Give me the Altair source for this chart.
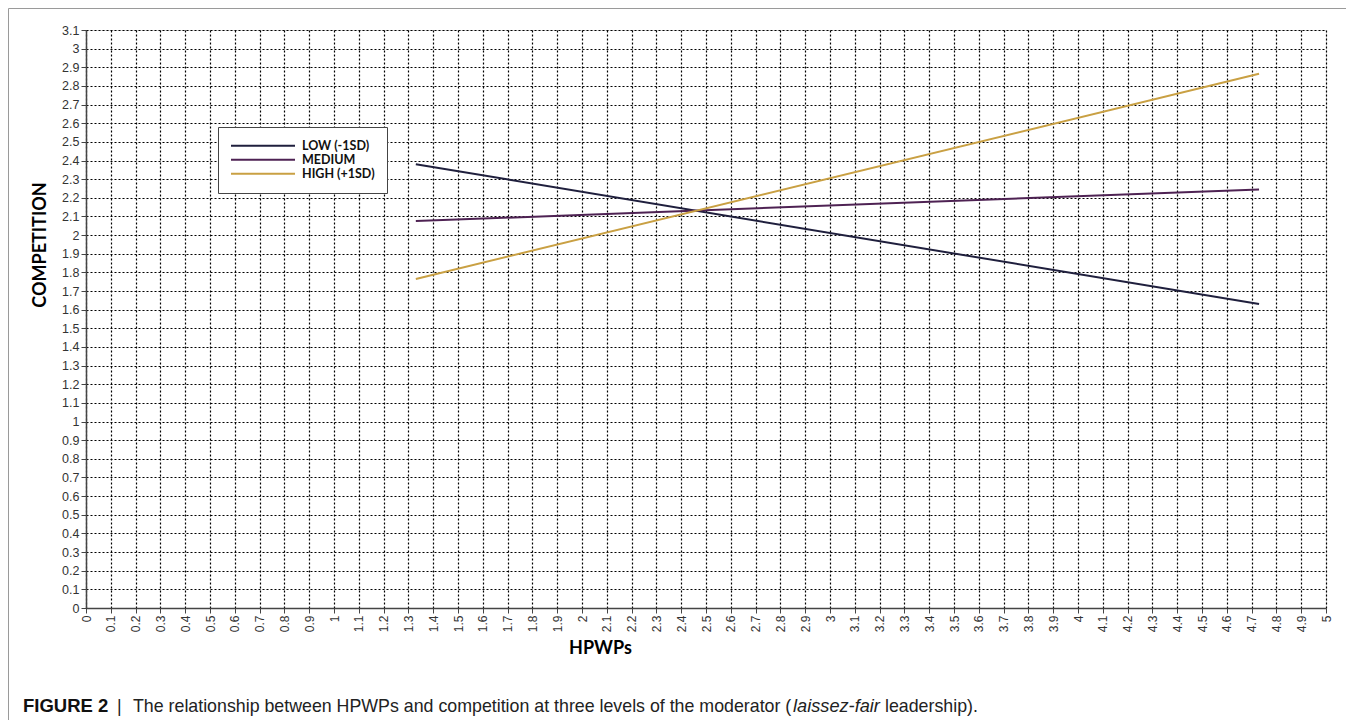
import altair as alt
import pandas as pd

# ---- data ----
hpwps = [1.33, 4.73]
low = [2.38, 1.63]
medium = [2.075, 2.245]
high = [1.765, 2.865]
levels = ["LOW (-1SD)", "MEDIUM", "HIGH (+1SD)"]
colors = ["#1f1f3d", "#4e2253", "#c9a043"]

x_ticks = [round(i * 0.1, 1) for i in range(51)]
y_ticks = [round(i * 0.1, 1) for i in range(32)]

rows = []
for lvl, vals in zip(levels, [low, medium, high]):
    for xv, yv in zip(hpwps, vals):
        rows.append({"HPWPs": xv, "COMPETITION": yv, "level": lvl})
df = pd.DataFrame(rows)

PW, PH = 1240, 578

lines = alt.Chart(df).mark_line(strokeWidth=2).encode(
    x=alt.X(
        "HPWPs:Q",
        scale=alt.Scale(domain=[0, 5], nice=False, zero=False),
        axis=alt.Axis(
            values=x_ticks, format=".1~f", labelAngle=270, title="HPWPs",
            labelFont="Liberation Sans", labelFontSize=12, labelColor="#333",
            labelPadding=2, tickSize=5, tickColor="#444",
            domainColor="#444", domainWidth=1.5,
            grid=True, gridColor="#000", gridDash=[2, 2], gridWidth=1.2,
            titleFont="Lato", titleFontSize=18, titleFontWeight="bold",
            titleColor="#000", titleX=514, titleY=40,
            titleAlign="center", titleBaseline="middle", labelOverlap=False,
        ),
    ),
    y=alt.Y(
        "COMPETITION:Q",
        scale=alt.Scale(domain=[0, 3.1], nice=False, zero=False),
        axis=alt.Axis(
            values=y_ticks, format=".1~f", title="COMPETITION",
            labelFont="Liberation Sans", labelFontSize=12.5, labelColor="#333",
            labelPadding=2, tickSize=5, tickColor="#444",
            domainColor="#444", domainWidth=1.5,
            grid=True, gridColor="#000", gridDash=[2, 2], gridWidth=1.2,
            titleFont="Lato", titleFontSize=18, titleFontWeight="bold",
            titleColor="#000", titleX=-45.5, titleY=214.5, titleAngle=270,
            titleAlign="center", titleBaseline="middle", labelOverlap=False,
        ),
    ),
    color=alt.Color(
        "level:N",
        scale=alt.Scale(domain=levels, range=colors),
        sort=levels,
        legend=alt.Legend(
            title=None, orient="none", legendX=132, legendY=97,
            symbolType="stroke", symbolSize=4096, symbolStrokeWidth=2,
            clipHeight=13.3, rowPadding=0, labelOffset=6,
            labelFont="Lato", labelFontSize=12.5, labelFontWeight="bold",
            labelColor="#111", padding=12, strokeColor="#444",
            fillColor="white", cornerRadius=0,
        ),
    ),
)

one = pd.DataFrame({"a": [0]})

frame_top = alt.Chart(one).mark_rule(color="#9a9a9a", strokeWidth=1).encode(
    x=alt.value(-77.5), x2=alt.value(1260), y=alt.value(-21.5)
)
frame_left = alt.Chart(one).mark_rule(color="#9a9a9a", strokeWidth=1).encode(
    x=alt.value(-77.5), y=alt.value(-21.5), y2=alt.value(690)
)

cap_y = 682
cap_parts = [
    ("FIGURE 2", -63, "bold", "normal", "#111", 18.5),
    ("|", 31, "normal", "normal", "#222", 17.8),
    ("The relationship between HPWPs and competition at three levels of the moderator (", 47, "normal", "normal", "#222", 17.8),
    ("laissez-fair", 707, "normal", "italic", "#222", 18.2),
    ("leadership).", 799, "normal", "normal", "#222", 17.8),
]
caption_layers = []
for txt, xpos, weight, style, col, fs in cap_parts:
    caption_layers.append(
        alt.Chart(pd.DataFrame({"t": [txt]})).mark_text(
            align="left", baseline="alphabetic", font="Liberation Sans",
            fontSize=fs, fontWeight=weight, fontStyle=style, color=col,
        ).encode(text="t:N", x=alt.value(xpos), y=alt.value(cap_y))
    )

chart = alt.layer(lines, frame_top, frame_left, *caption_layers).properties(
    width=PW, height=PH,
    autosize=alt.AutoSizeParams(type="none"),
    padding={"left": 78, "top": 22, "right": 20, "bottom": 112},
).configure_view(stroke="#666", strokeWidth=1).configure(background="white")

chart.save("out.html", embed_options={"renderer": "svg", "actions": False})
